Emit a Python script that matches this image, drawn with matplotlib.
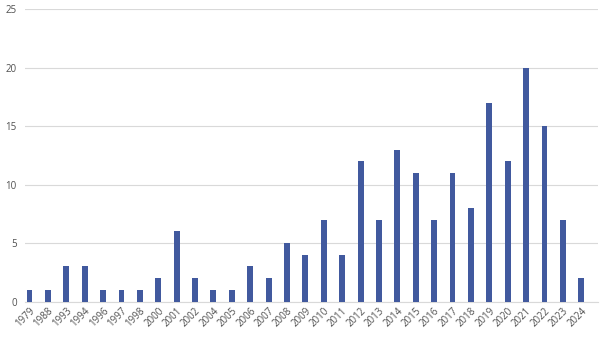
import matplotlib
matplotlib.use('Agg')
import matplotlib.pyplot as plt

years = ['1979', '1988', '1993', '1994', '1996', '1997', '1998', '2000', '2001', '2002',
         '2004', '2005', '2006', '2007', '2008', '2009', '2010', '2011', '2012', '2013',
         '2014', '2015', '2016', '2017', '2018', '2019', '2020', '2021', '2022', '2023', '2024']
counts = [1, 1, 3, 3, 1, 1, 1, 2, 6, 2,
          1, 1, 3, 2, 5, 4, 7, 4, 12, 7,
          13, 11, 7, 11, 8, 17, 12, 20, 15, 7, 2]

plt.rcParams['font.family'] = ['Open Sans', 'DejaVu Sans']

fig = plt.figure(figsize=(6, 3.39), dpi=100)
ax = fig.add_axes([25 / 600, 37.5 / 339, 573 / 600, 292.3 / 339])

x = range(len(years))
ax.bar(x, counts, width=0.32, color='#41599E', zorder=3)

ax.set_ylim(0, 25)
ax.set_yticks(range(0, 26, 5))
ax.set_xlim(-0.245, 30.91)
ax.set_xticks(list(x))
ax.set_xticklabels(years, rotation=45, ha='right', rotation_mode='anchor')

ax.grid(axis='y', color='#D9D9D9', linewidth=0.8, zorder=0)
for s in ['top', 'right', 'left']:
    ax.spines[s].set_visible(False)
ax.spines['bottom'].set_color('#D9D9D9')
ax.tick_params(length=0, labelsize=7, labelcolor='#505050')
ax.tick_params(axis='y', pad=6)
ax.tick_params(axis='x', pad=3)

fig.savefig('out.png', dpi=100)
